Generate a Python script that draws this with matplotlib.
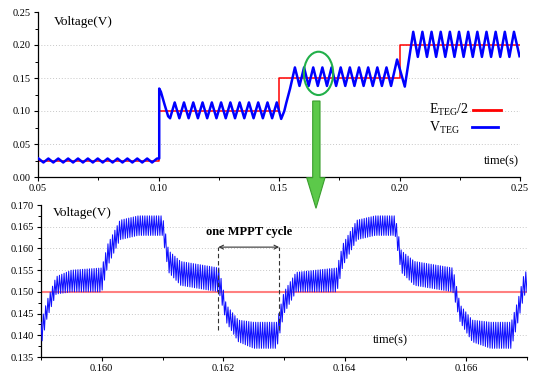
import numpy as np
import matplotlib
matplotlib.use("Agg")
import matplotlib.pyplot as plt
from matplotlib.patches import Ellipse, Polygon

plt.rcParams['font.family'] = ['Liberation Serif', 'DejaVu Serif']
plt.rcParams['mathtext.fontset'] = 'custom'
plt.rcParams['mathtext.rm'] = 'Liberation Serif'
plt.rcParams['mathtext.it'] = 'Liberation Serif:italic'

# ---------------- data ----------------
# top panel: E_TEG/2 step reference
e_step_times = [0.05, 0.10, 0.15, 0.20, 0.25]
e_step_levels = [0.025, 0.10, 0.15, 0.20]

# top panel: V_TEG oscillating segments (start, end, period, low, high, starts-high)
osc_start = [0.0502, 0.1048, 0.1566, 0.2057]
osc_end = [0.0995, 0.1492, 0.1966, 0.2480]
osc_period = [0.0041, 0.00385, 0.0038, 0.0038]
osc_low = [0.022, 0.089, 0.138, 0.182]
osc_high = [0.028, 0.113, 0.166, 0.220]
osc_first_high = [True, False, True, True]

# top panel: V_TEG transients between segments
trans1_t = [0.1003, 0.1003, 0.1010, 0.1025, 0.1040]
trans1_v = [0.028, 0.134, 0.129, 0.110, 0.092]
trans2_t = [0.1509, 0.1522, 0.1530, 0.1546]
trans2_v = [0.088, 0.100, 0.112, 0.134]
trans3_t = [0.1990, 0.2022]
trans3_v = [0.178, 0.137]
trans4_t = [0.2498]
trans4_v = [0.183]

# bottom panel (zoom): envelope of the switching ripple
env_t = [0.15900, 0.15910, 0.15925, 0.15950, 0.16000, 0.16010, 0.16030, 0.16060,
         0.16100, 0.16110, 0.16130, 0.16193, 0.16205, 0.16225, 0.16250, 0.16288,
         0.16300, 0.16320, 0.16387, 0.16397, 0.16420, 0.16450, 0.16483, 0.16493,
         0.16515, 0.16578, 0.16590, 0.16610, 0.16640, 0.16674, 0.16685, 0.16695,
         0.16700]
env_lo = [0.1375, 0.1440, 0.1495, 0.1500, 0.1500, 0.1560, 0.1620, 0.1630,
          0.1630, 0.1545, 0.1515, 0.1500, 0.1430, 0.1385, 0.1370, 0.1370,
          0.1450, 0.1500, 0.1500, 0.1560, 0.1620, 0.1630, 0.1630, 0.1545,
          0.1515, 0.1500, 0.1430, 0.1385, 0.1370, 0.1370, 0.1430, 0.1490,
          0.1500]
env_hi = [0.1430, 0.1480, 0.1535, 0.1550, 0.1555, 0.1610, 0.1665, 0.1675,
          0.1675, 0.1595, 0.1570, 0.1555, 0.1470, 0.1435, 0.1430, 0.1430,
          0.1500, 0.1545, 0.1555, 0.1610, 0.1665, 0.1675, 0.1675, 0.1595,
          0.1570, 0.1555, 0.1470, 0.1435, 0.1430, 0.1430, 0.1480, 0.1540,
          0.1550]
ripple_period = 38e-6
e_ref_zoom = 0.150
mppt_start = 0.16192
mppt_end = 0.16292

top_xticks = [0.05, 0.10, 0.15, 0.20, 0.25]
top_yticks = [0.00, 0.05, 0.10, 0.15, 0.20, 0.25]
bot_xticks = [0.160, 0.162, 0.164, 0.166]
bot_yticks = [0.135, 0.140, 0.145, 0.150, 0.155, 0.160, 0.165, 0.170]
legend_labels = [r'E$_{\mathrm{TEG}}$/2', r'V$_{\mathrm{TEG}}$']


def zig(t0, t1, period, lo, hi, first_high):
    ts, vs = [], []
    k = 0
    t = t0
    while t <= t1 + 1e-9:
        high = (k % 2 == 0) == first_high
        ts.append(t)
        vs.append(hi if high else lo)
        k += 1
        t = t0 + k * period / 2
    return ts, vs


# assemble top V_TEG
v_t, v_v = [], []
trans_t = [trans1_t, trans2_t, trans3_t, trans4_t]
trans_v = [trans1_v, trans2_v, trans3_v, trans4_v]
for i in range(4):
    ts, vs = zig(osc_start[i], osc_end[i], osc_period[i], osc_low[i], osc_high[i], osc_first_high[i])
    v_t += ts
    v_v += vs
    v_t += trans_t[i]
    v_v += trans_v[i]

# ---------------- figure ----------------
fig = plt.figure(figsize=(5.5, 3.81), dpi=100)
W, H = 550, 381
ax1 = fig.add_axes([38 / W, 1 - 177 / H, 482 / W, 165 / H])
ax2 = fig.add_axes([41 / W, 1 - 357 / H, 486 / W, 152 / H])

BLUE = '#0000ff'
RED = '#ff0000'
GRID = '#c8c8c8'

for ax in (ax1, ax2):
    for s in ('top', 'right'):
        ax.spines[s].set_visible(False)
    ax.spines['left'].set_linewidth(0.9)
    ax.spines['bottom'].set_linewidth(0.9)
    ax.tick_params(which='major', direction='out', length=3, width=0.8, labelsize=7.5, pad=2)
    ax.tick_params(which='minor', direction='out', length=2, width=0.7)

# ---- top panel ----
ax1.set_xlim(0.05, 0.25)
ax1.set_ylim(0.0, 0.25)
for g in [0.05, 0.10, 0.15, 0.20]:
    ax1.axhline(g, color=GRID, lw=0.7, ls=(0, (1, 2)), zorder=0)
ax1.step(e_step_times, e_step_levels + [e_step_levels[-1]], where='post', color=RED, lw=1.1, zorder=2)
ax1.plot(v_t, v_v, color=BLUE, lw=1.8, zorder=3)
ax1.set_xticks(top_xticks)
ax1.set_xticklabels([f'{x:.2f}' for x in top_xticks])
ax1.set_xticks([0.075, 0.125, 0.175, 0.225], minor=True)
ax1.set_yticks(top_yticks)
ax1.set_yticklabels([f'{y:.2f}' for y in top_yticks])
ax1.set_yticks([0.025, 0.075, 0.125, 0.175, 0.225], minor=True)
ax1.text(0.0565, 0.2353, 'Voltage(V)', fontsize=9.5, ha='left', va='center')
ax1.text(0.2421, 0.024, 'time(s)', fontsize=9, ha='center', va='center')

# legend (text first, then line sample)
ax1.text(0.812, 0.406, legend_labels[0], transform=ax1.transAxes, fontsize=10, ha='left', va='center')
ax1.text(0.812, 0.297, legend_labels[1], transform=ax1.transAxes, fontsize=10, ha='left', va='center')
ax1.plot([0.9025, 0.9606], [0.406, 0.406], transform=ax1.transAxes, color=RED, lw=2)
ax1.plot([0.900, 0.954], [0.303, 0.303], transform=ax1.transAxes, color=BLUE, lw=2)

ell = Ellipse((0.1664, 0.157), 0.01216, 0.0656, fill=False, edgecolor='#22b04a', lw=1.5, zorder=5, clip_on=False)
ax1.add_patch(ell)

# ---- bottom panel ----
ax2.set_xlim(0.159, 0.167)
ax2.set_ylim(0.135, 0.170)
for g in [0.140, 0.145, 0.150, 0.155, 0.160, 0.165]:
    ax2.axhline(g, color=GRID, lw=0.7, ls=(0, (1, 2)), zorder=0)
ax2.plot([0.159, 0.167], [e_ref_zoom, e_ref_zoom], color='#ff8080', lw=1.5, zorder=2)

tr = np.arange(env_t[0], env_t[-1] + 1e-12, ripple_period / 2)
lo_i = np.interp(tr, env_t, env_lo)
hi_i = np.interp(tr, env_t, env_hi)
idx = np.arange(len(tr))
vr = np.where(idx % 2 == 0, hi_i, lo_i)
ax2.plot(tr, vr, color='#1010ff', lw=0.75, zorder=3)

ax2.set_xticks(bot_xticks)
ax2.set_xticklabels([f'{x:.3f}' for x in bot_xticks])
ax2.set_xticks([0.159, 0.161, 0.163, 0.165, 0.167], minor=True)
ax2.set_yticks(bot_yticks)
ax2.set_yticklabels([f'{y:.3f}' for y in bot_yticks])
ax2.set_yticks(list(np.array(bot_yticks[:-1]) + 0.0025), minor=True)
ax2.text(0.15919, 0.1682, 'Voltage(V)', fontsize=9.5, ha='left', va='center')
ax2.text(0.16475, 0.1388, 'time(s)', fontsize=9, ha='center', va='center')

for xm in (mppt_start, mppt_end):
    ax2.plot([xm, xm], [0.1412, 0.1603], color='#333333', lw=0.8, ls=(0, (4, 2.5)), zorder=4)
ax2.annotate('', xy=(mppt_start, 0.1603), xytext=(mppt_end, 0.1603),
             arrowprops=dict(arrowstyle='<->', color='#333333', lw=0.8, shrinkA=0, shrinkB=0,
                             mutation_scale=7))
ax2.text((mppt_start + mppt_end) / 2, 0.1638, 'one MPPT cycle', fontsize=9, fontweight='bold',
         ha='center', va='center')

# ---- overlay: green arrow between panels ----
ov = fig.add_axes([0, 0, 1, 1], zorder=10)
ov.set_xlim(0, W)
ov.set_ylim(H, 0)
ov.axis('off')
ov.patch.set_alpha(0)
arrow_pts = [(312.7, 101), (320, 101), (320, 177.7), (325, 177.7), (316, 208.3),
             (306.7, 177.7), (312.7, 177.7)]
ov.add_patch(Polygon(arrow_pts, closed=True, facecolor='#5cc94a', edgecolor='#3a9e2e', lw=0.8))

fig.savefig('out.png', dpi=100)
